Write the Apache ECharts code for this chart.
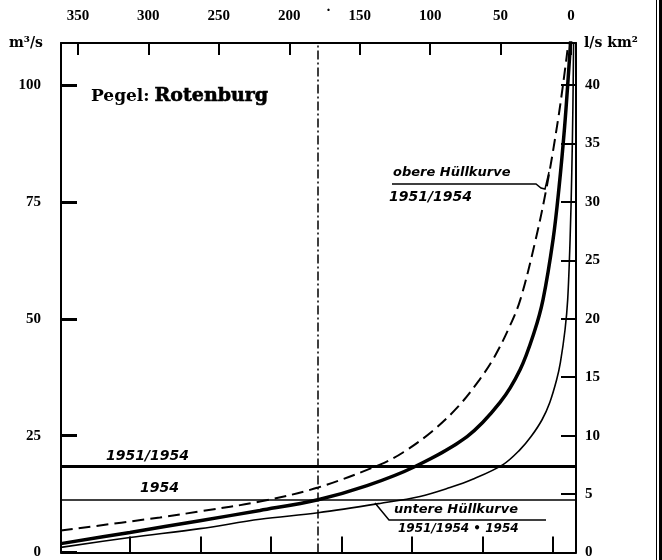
<!DOCTYPE html>
<html>
<head>
<meta charset="utf-8">
<script src="https://cdn.jsdelivr.net/npm/echarts@6/dist/echarts.min.js"></script>
<style>html,body{margin:0;padding:0;background:#fff}#c{width:662px;height:560px}</style>
</head>
<body>
<div id="c"></div>
<script>
// Unterschreitungsdauer (Tage) vs Abfluss (m³/s), Pegel Rotenburg
const dayTicks = [0, 50, 100, 150, 200, 250, 300, 350];
const bottomTicks = [0, 50, 100, 150, 200, 250, 300];
const leftTicks = [0, 25, 50, 75, 100];
const rightTicks = [0, 5, 10, 15, 20, 25, 30, 35, 40];

// mittlere Dauerlinie (dicke Linie)
const meanCurve = [
  [362.1, 1.9], [313.1, 4.3], [263.4, 6.8], [220.8, 9.0], [179.6, 11.3],
  [144.8, 14.3], [110.7, 18.4], [73.8, 24.8], [50.4, 32.1], [36.2, 39.1],
  [26.3, 47.0], [19.9, 54.1], [12.8, 66.9], [8.5, 78.2], [4.6, 91.0],
  [1.8, 102.6], [0.4, 109.0], [-0.7, 113.9]
];
// obere Hüllkurve 1951/1954 (gestrichelt)
const upperCurve = [
  [362.1, 4.7], [291.8, 7.5], [263.4, 8.8], [220.8, 10.9], [179.6, 13.9],
  [135.6, 18.8], [119.3, 21.4], [98.7, 25.9], [80.2, 31.2], [64.9, 37.0],
  [54.3, 41.9], [43.7, 48.3], [36.0, 54.1], [25.7, 66.2], [17.3, 78.2],
  [9.6, 91.9], [4.6, 102.6], [1.8, 109.6], [0.7, 113.9]
];
// untere Hüllkurve 1951/1954 + 1954 (dünn)
const lowerCurve = [
  [362.1, 1.1], [313.1, 3.2], [263.4, 5.1], [220.8, 7.1], [179.6, 8.5],
  [135.6, 10.5], [107.2, 12.0], [85.9, 13.9], [70.3, 15.6], [48.3, 18.8],
  [36.2, 22.0], [28.4, 24.8], [20.6, 28.4], [15.1, 32.1], [10.2, 37.0],
  [7.6, 40.6], [4.3, 47.6], [2.4, 54.1], [0.7, 66.9], [-0.5, 81.2],
  [-1.3, 95.3], [-1.8, 109.6]
];
// Mittelwasser
const mq5154 = 18.4;
const mq54 = 11.3;
const halfYear = 180;

const numFont = {fontFamily: 'Liberation Serif', fontWeight: 'bold', fontSize: 15, color: '#000'};
const hand = {fontFamily: 'DejaVu Sans', fontStyle: 'italic', fontWeight: 'bold', fill: '#000'};

const chart = echarts.init(document.getElementById('c'), null, {renderer: 'canvas'});
chart.setOption({
  animation: false,
  backgroundColor: '#fff',
  title: {
    text: '{a|Pegel:} {b|Rotenburg}',
    left: 86, top: 82,
    textStyle: {
      rich: {
        a: {fontFamily: 'DejaVu Serif', fontWeight: 'bold', fontSize: 17, color: '#000'},
        b: {fontFamily: 'DejaVu Serif', fontWeight: 'bold', fontSize: 19, color: '#000', textBorderColor: '#000', textBorderWidth: 0.6}
      }
    }
  },
  grid: {left: 61, right: 86, top: 43, bottom: 7},
  xAxis: [
    {
      type: 'value', position: 'top', inverse: true, min: -3.5, max: 362,
      axisLine: {show: true, onZero: false, lineStyle: {color: '#000', width: 2}},
      axisTick: {show: true, inside: true, length: 12, lineStyle: {color: '#000', width: 2}, customValues: dayTicks},
      axisLabel: Object.assign({show: true, margin: 19, customValues: dayTicks}, numFont),
      splitLine: {show: false}
    },
    {
      type: 'value', position: 'bottom', inverse: true, min: -16.3, max: 349,
      axisLine: {show: true, onZero: false, lineStyle: {color: '#000', width: 2}},
      axisTick: {show: true, inside: true, length: 16, lineStyle: {color: '#000', width: 2}, customValues: bottomTicks},
      axisLabel: {show: false},
      splitLine: {show: false}
    }
  ],
  yAxis: [
    {
      type: 'value', position: 'left', min: 0, max: 109,
      name: 'm³/s', nameLocation: 'end', nameGap: 0,
      nameTextStyle: {fontFamily: 'DejaVu Serif', fontWeight: 'bold', fontSize: 14, color: '#000', align: 'right', verticalAlign: 'middle', padding: [0, 18, 0, 0]},
      axisLine: {show: true, onZero: false, lineStyle: {color: '#000', width: 2}},
      axisTick: {show: true, inside: true, length: 16, lineStyle: {color: '#000', width: 3}, customValues: leftTicks},
      axisLabel: Object.assign({show: true, margin: 20, customValues: leftTicks}, numFont),
      splitLine: {show: false}
    },
    {
      type: 'value', position: 'right', min: 0, max: 43.6,
      name: 'l/s km²', nameLocation: 'end', nameGap: 0,
      nameTextStyle: {fontFamily: 'DejaVu Serif', fontWeight: 'bold', fontSize: 14, color: '#000', align: 'left', verticalAlign: 'middle', padding: [0, 0, 0, 8]},
      axisLine: {show: true, onZero: false, lineStyle: {color: '#000', width: 2}},
      axisTick: {show: true, inside: true, length: 15, lineStyle: {color: '#000', width: 2}, customValues: rightTicks},
      axisLabel: Object.assign({show: true, margin: 9, customValues: rightTicks}, numFont),
      splitLine: {show: false}
    }
  ],
  series: [
    {
      name: 'untere Hüllkurve', type: 'line', xAxisIndex: 0, yAxisIndex: 0,
      data: lowerCurve, symbol: 'none', smooth: 0.35, clip: true,
      lineStyle: {color: '#000', width: 1.6},
      markLine: {
        silent: true, symbol: 'none', label: {show: false},
        data: [
          {yAxis: mq5154, lineStyle: {color: '#000', width: 3, type: 'solid'}},
          {yAxis: mq54, lineStyle: {color: '#000', width: 1.6, type: 'solid'}},
          {xAxis: halfYear, lineStyle: {color: '#000', width: 1.5, type: [9, 3, 2, 3]}}
        ]
      }
    },
    {
      name: 'obere Hüllkurve', type: 'line', xAxisIndex: 0, yAxisIndex: 0,
      data: upperCurve, symbol: 'none', smooth: 0.35, clip: true,
      lineStyle: {color: '#000', width: 2, type: [12, 6]}
    },
    {
      name: 'Mittel', type: 'line', xAxisIndex: 0, yAxisIndex: 0,
      data: meanCurve, symbol: 'none', smooth: 0.35, clip: true,
      lineStyle: {color: '#000', width: 3.5}
    }
  ],
  graphic: [
    {type: 'text', left: 326, top: 4, style: {text: '·', font: 'bold 15px "Liberation Serif"', fill: '#000'}},
    {type: 'text', left: 393, top: 166, style: Object.assign({text: 'obere Hüllkurve', fontSize: 13}, hand)},
    {type: 'text', left: 389, top: 190, style: Object.assign({text: '1951/1954', fontSize: 14}, hand)},
    {type: 'polyline', shape: {points: [[392, 184], [536, 184], [541, 188], [545, 189], [549, 172]]}, style: {stroke: '#000', lineWidth: 1.5, fill: null}},
    {type: 'text', left: 106, top: 449, style: Object.assign({text: '1951/1954', fontSize: 14}, hand)},
    {type: 'text', left: 140, top: 481, style: Object.assign({text: '1954', fontSize: 14}, hand)},
    {type: 'polyline', shape: {points: [[375, 503], [389, 520], [546, 520]]}, style: {stroke: '#000', lineWidth: 1.5, fill: null}},
    {type: 'text', left: 394, top: 503, style: Object.assign({text: 'untere Hüllkurve', fontSize: 13}, hand)},
    {type: 'text', left: 398, top: 523, style: Object.assign({text: '1951/1954 • 1954', fontSize: 12}, hand)},
    {type: 'rect', shape: {x: 659, y: 0, width: 3, height: 560}, style: {fill: '#000'}},
    {type: 'rect', shape: {x: 656, y: 0, width: 1, height: 560}, style: {fill: '#000'}}
  ]
});
</script>
</body>
</html>
